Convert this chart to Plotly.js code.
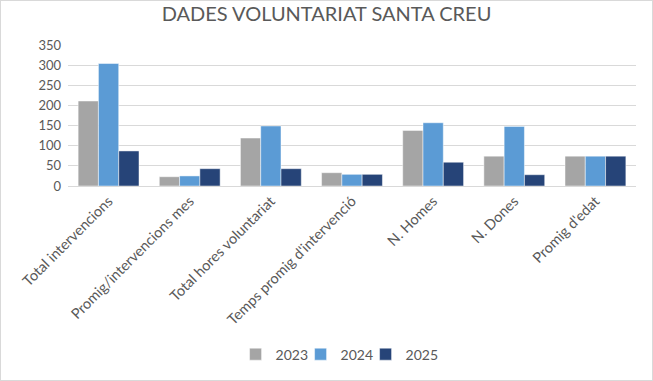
<!DOCTYPE html>
<html>
<head>
<meta charset="utf-8">
<script src="https://cdn.plot.ly/plotly-3.0.1.min.js"></script>
<style>
html,body{margin:0;padding:0;background:#fff;}
#frame{width:651px;height:379px;border:1px solid #D9D9D9;}
#chart{width:651px;height:379px;}
</style>
</head>
<body>
<div id="frame"><div id="chart"></div></div>
<script>
const categories = ["Total intervencions", "Promig/intervencions mes", "Total hores voluntariat", "Temps promig d'intervenció", "N. Homes", "N. Dones", "Promig d'edat"];
const values2023 = [211, 23, 119, 33, 138, 74, 74];
const values2024 = [304, 25, 149, 29, 157, 148, 74];
const values2025 = [87, 43, 43, 29, 59, 28, 74];
const seriesNames = ["2023", "2024", "2025"];
const yTicks = [0, 50, 100, 150, 200, 250, 300, 350];

const colors = ["#A5A5A5", "#5B9BD5", "#264478"];
const allValues = [values2023, values2024, values2025];
const font = "Lato, 'Open Sans', sans-serif";

const traces = allValues.map((v, i) => ({
  type: "bar",
  name: seriesNames[i],
  x: categories,
  y: v,
  marker: {color: colors[i], line: {color: "rgba(255,255,255,0.6)", width: 0.8}},
  legendwidth: i === allValues.length - 1 ? 34 : 20,
  hoverinfo: "x+y+name"
}));

const layout = {
  width: 651,
  height: 379,
  margin: {l: 67, r: 16, t: 44, b: 193},
  paper_bgcolor: "#fff",
  plot_bgcolor: "#fff",
  font: {family: font, color: "#595959", size: 12},
  title: {
    text: "DADES VOLUNTARIAT SANTA CREU",
    font: {family: font, size: 20, color: "#595959"},
    x: 0.5, xanchor: "center", y: 0.985, yanchor: "top"
  },
  barmode: "group",
  bargap: 0.25,
  bargroupgap: 0,
  xaxis: {
    tickangle: -45,
    tickfont: {family: font, size: 14.5, color: "#595959"},
    showline: true,
    linecolor: "#D9D9D9",
    linewidth: 1,
    ticks: "",
    showgrid: false,
    fixedrange: true
  },
  yaxis: {
    range: [0, 350],
    tickvals: yTicks,
    ticktext: yTicks.map(String),
    tickfont: {family: font, size: 13, color: "#595959"},
    gridcolor: "#D9D9D9",
    gridwidth: 1,
    zeroline: false,
    showline: false,
    ticks: "",
    ticklabelstandoff: 6,
    fixedrange: true
  },
  legend: {
    orientation: "h",
    x: 0.479, xanchor: "center",
    y: -1.18, yanchor: "middle",
    font: {family: font, size: 14, color: "#595959"},
    itemwidth: 30,
    entrywidthmode: "pixels",
    traceorder: "normal"
  },
  showlegend: true
};

Plotly.newPlot("chart", traces, layout, {displayModeBar: false, staticPlot: true});
</script>
</body>
</html>
